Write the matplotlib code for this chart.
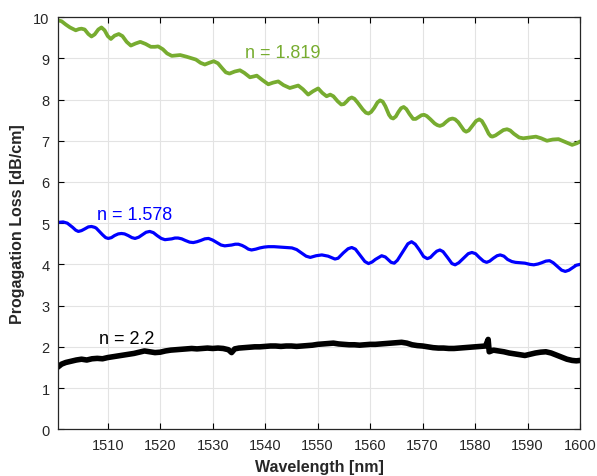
import matplotlib.pyplot as plt

plt.rcParams['font.family'] = ['Liberation Sans', 'DejaVu Sans']

# n = 1.819 film
wl_green = [1500.6, 1501.2, 1502.0, 1502.8, 1503.9, 1504.5, 1505.0, 1505.6, 1506.3, 1506.9,
            1507.5, 1508.2, 1508.8, 1509.4, 1510.0, 1510.6, 1511.3, 1512.1, 1512.8, 1513.6,
            1514.4, 1515.3, 1516.2, 1517.2, 1518.2, 1519.0, 1519.6, 1520.5, 1521.3, 1522.2,
            1523.0, 1523.8, 1525.0, 1526.0, 1526.8, 1527.7, 1528.5, 1529.3, 1530.2, 1531.0,
            1531.8, 1532.5, 1533.2, 1534.2, 1535.2, 1536.0, 1537.1, 1537.8, 1538.4, 1539.4,
            1540.6, 1541.5, 1542.5, 1543.5, 1544.7, 1545.5, 1546.3, 1547.2, 1548.2, 1549.1,
            1550.1, 1550.9, 1551.7, 1552.4, 1553.0, 1553.8, 1554.5, 1555.0, 1555.5, 1556.0,
            1556.5, 1557.0, 1557.6, 1558.6, 1559.2, 1559.7, 1560.2, 1560.8, 1561.4, 1561.9,
            1562.4, 1562.9, 1563.6, 1564.0, 1564.4, 1564.9, 1565.4, 1565.9, 1566.4, 1566.9,
            1567.5, 1568.2, 1568.7, 1569.3, 1569.8, 1570.3, 1570.8, 1571.5, 1572.3, 1572.8,
            1573.3, 1573.9, 1574.5, 1575.1, 1575.7, 1576.2, 1576.8, 1577.5, 1577.9, 1578.3,
            1578.8, 1579.6, 1580.2, 1580.8, 1581.3, 1581.9, 1582.6, 1583.0, 1583.3, 1583.9,
            1584.6, 1585.4, 1586.1, 1586.7, 1587.4, 1588.4, 1589.2, 1590.4, 1591.6, 1592.6,
            1593.7, 1594.8, 1595.9, 1597.0, 1598.5, 1599.4, 1600.0]
loss_green = [9.92, 9.90, 9.82, 9.75, 9.68, 9.71, 9.72, 9.70, 9.59, 9.53,
              9.58, 9.70, 9.75, 9.68, 9.54, 9.47, 9.55, 9.59, 9.54, 9.40,
              9.31, 9.36, 9.40, 9.35, 9.28, 9.28, 9.29, 9.22, 9.12, 9.06,
              9.07, 9.08, 9.04, 9.00, 8.97, 8.89, 8.85, 8.89, 8.93, 8.88,
              8.76, 8.66, 8.63, 8.68, 8.71, 8.65, 8.54, 8.56, 8.58, 8.48,
              8.37, 8.41, 8.44, 8.35, 8.28, 8.31, 8.34, 8.25, 8.12, 8.20,
              8.27, 8.16, 8.08, 8.12, 8.08, 7.96, 7.88, 7.89, 7.95, 8.02,
              8.05, 8.02, 7.93, 7.76, 7.68, 7.66, 7.70, 7.80, 7.93, 7.98,
              7.95, 7.84, 7.63, 7.56, 7.54, 7.59, 7.70, 7.79, 7.82, 7.77,
              7.65, 7.53, 7.53, 7.58, 7.62, 7.63, 7.60, 7.52, 7.42, 7.38,
              7.36, 7.39, 7.46, 7.52, 7.54, 7.52, 7.45, 7.32, 7.25, 7.22,
              7.25, 7.38, 7.48, 7.52, 7.48, 7.35, 7.17, 7.11, 7.10, 7.13,
              7.19, 7.26, 7.28, 7.25, 7.17, 7.08, 7.06, 7.08, 7.10, 7.06,
              7.00, 7.03, 7.04, 6.98, 6.90, 6.94, 6.98]

# n = 1.578 film
wl_blue = [1500.6, 1501.5, 1502.3, 1503.3, 1503.9, 1504.4, 1505.0, 1505.6, 1506.3, 1506.9,
           1507.5, 1507.8, 1508.4, 1509.0, 1509.6, 1510.1, 1510.7, 1511.3, 1512.0, 1512.6,
           1513.2, 1513.9, 1514.6, 1515.2, 1515.9, 1516.6, 1517.3, 1518.0, 1518.7, 1519.4,
           1520.2, 1520.9, 1521.6, 1522.2, 1522.8, 1523.4, 1524.1, 1524.8, 1525.6, 1526.3,
           1527.0, 1527.7, 1528.5, 1529.2, 1530.0, 1530.8, 1531.6, 1532.3, 1533.0, 1533.6,
           1534.3, 1534.9, 1535.6, 1536.2, 1536.8, 1537.4, 1538.2, 1539.0, 1539.8, 1540.6,
           1541.7, 1542.8, 1544.0, 1545.1, 1546.0, 1546.9, 1547.8, 1548.6, 1549.7, 1550.8,
           1552.0, 1553.3, 1553.9, 1554.9, 1555.8, 1556.5, 1557.2, 1558.1, 1559.0, 1559.7,
           1560.4, 1561.0, 1562.2, 1562.9, 1563.4, 1564.0, 1564.6, 1565.2, 1566.2, 1567.2,
           1567.9, 1568.6, 1569.4, 1570.2, 1570.9, 1571.5, 1572.1, 1572.7, 1573.3, 1573.9,
           1574.8, 1575.6, 1576.2, 1576.9, 1577.8, 1578.7, 1579.4, 1580.1, 1580.8, 1581.6,
           1582.2, 1582.8, 1583.5, 1584.2, 1584.8, 1585.5, 1586.2, 1587.0, 1587.7, 1589.5,
           1590.5, 1591.2, 1592.0, 1592.7, 1593.5, 1594.2, 1594.9, 1595.7, 1596.5, 1597.2,
           1597.9, 1598.6, 1599.3, 1600.0]
loss_blue = [5.02, 5.03, 5.00, 4.90, 4.83, 4.80, 4.82, 4.86, 4.91, 4.92,
             4.90, 4.88, 4.80, 4.72, 4.65, 4.63, 4.65, 4.70, 4.74, 4.75,
             4.74, 4.70, 4.65, 4.63, 4.66, 4.72, 4.78, 4.80, 4.77, 4.70,
             4.63, 4.60, 4.61, 4.62, 4.64, 4.64, 4.62, 4.58, 4.54, 4.53,
             4.55, 4.58, 4.62, 4.63, 4.59, 4.53, 4.47, 4.45, 4.46, 4.47,
             4.49, 4.49, 4.46, 4.42, 4.37, 4.35, 4.37, 4.40, 4.42, 4.43,
             4.43, 4.42, 4.41, 4.40, 4.36, 4.28, 4.20, 4.17, 4.21, 4.23,
             4.20, 4.13, 4.15, 4.28, 4.38, 4.41, 4.37, 4.22, 4.07, 4.02,
             4.06, 4.12, 4.21, 4.18, 4.12, 4.05, 4.03, 4.10, 4.30, 4.50,
             4.55, 4.49, 4.35, 4.19, 4.14, 4.17, 4.25, 4.32, 4.35, 4.31,
             4.16, 4.02, 3.99, 4.04, 4.15, 4.26, 4.29, 4.26, 4.17, 4.08,
             4.05, 4.08, 4.15, 4.21, 4.23, 4.20, 4.12, 4.07, 4.05, 4.03,
             4.00, 3.99, 4.01, 4.04, 4.08, 4.09, 4.04, 3.95, 3.86, 3.83,
             3.86, 3.92, 3.98, 4.00]

# n = 2.2 film
wl_black = [1500.6, 1501.2, 1502, 1503, 1504, 1505, 1506, 1507, 1508, 1509,
            1510, 1511, 1512, 1513, 1514, 1515, 1516, 1517, 1518, 1519,
            1520, 1521, 1522, 1523, 1524, 1525, 1526, 1527, 1528, 1529,
            1530, 1531, 1532, 1533, 1533.6, 1534.2, 1535, 1536, 1537, 1538,
            1539, 1540, 1541, 1542, 1543, 1544, 1545, 1546, 1547, 1548,
            1549, 1550, 1551, 1552, 1553, 1554, 1555, 1556, 1557, 1558,
            1559, 1560, 1561, 1562, 1563, 1564, 1565, 1566, 1567, 1568,
            1569, 1570, 1571, 1572, 1573, 1574, 1575, 1576, 1577, 1578,
            1579, 1580, 1581, 1582, 1582.5, 1582.7, 1583.5, 1584.5, 1585.5, 1586.5,
            1587.5, 1588.5, 1589.5, 1590.5, 1591.5, 1592.5, 1593.5, 1594.5, 1595.5, 1596.5,
            1597.5, 1598.5, 1599.3, 1600]
loss_black = [1.52, 1.58, 1.62, 1.65, 1.68, 1.70, 1.68, 1.71, 1.72, 1.71,
              1.74, 1.76, 1.78, 1.80, 1.82, 1.84, 1.87, 1.90, 1.88, 1.86,
              1.87, 1.90, 1.92, 1.93, 1.94, 1.95, 1.96, 1.95, 1.96, 1.97,
              1.96, 1.97, 1.96, 1.93, 1.86, 1.95, 1.97, 1.98, 1.99, 2.00,
              2.00, 2.01, 2.02, 2.02, 2.01, 2.02, 2.02, 2.01, 2.02, 2.03,
              2.04, 2.06, 2.07, 2.08, 2.09, 2.07, 2.06, 2.05, 2.05, 2.04,
              2.05, 2.06, 2.06, 2.07, 2.08, 2.09, 2.10, 2.11, 2.09, 2.05,
              2.03, 2.02, 2.00, 1.98, 1.97, 1.97, 1.96, 1.96, 1.97, 1.98,
              1.99, 2.00, 2.01, 2.02, 2.18, 1.88, 1.92, 1.90, 1.88, 1.85,
              1.83, 1.81, 1.79, 1.82, 1.85, 1.87, 1.88, 1.85, 1.80, 1.75,
              1.70, 1.67, 1.66, 1.67]

xticks = list(range(1510, 1601, 10))
yticks = list(range(0, 11))

fig = plt.figure(figsize=(5.97, 4.77), dpi=100)
ax = fig.add_axes([0.097, 0.098, 0.8745, 0.864])

ax.plot(wl_green, loss_green, color='#77AC30', lw=2.7, solid_joinstyle='round')
ax.plot(wl_blue, loss_blue, color='#0000FF', lw=2.3, solid_joinstyle='round')
ax.plot(wl_black, loss_black, color='black', lw=4.0, solid_joinstyle='round')

ax.text(1543.4, 9.15, 'n = 1.819', color='#77AC30', fontsize=13, ha='center', va='center')
ax.text(1515.1, 5.22, 'n = 1.578', color='#0000FF', fontsize=13, ha='center', va='center')
ax.text(1513.6, 2.2, 'n = 2.2', color='black', fontsize=13, ha='center', va='center')

ax.set_xlim(1500.5, 1600)
ax.set_ylim(0, 10)
ax.set_xticks(xticks)
ax.set_yticks(yticks)
ax.grid(True, color='#e3e3e3', lw=0.8)
ax.set_axisbelow(True)
ax.tick_params(direction='in', top=True, right=True, length=4, width=0.8,
               labelsize=10.5, labelcolor='#262626', pad=6)
for s in ax.spines.values():
    s.set_color('#262626')
    s.set_linewidth(0.9)

ax.set_xlabel('Wavelength [nm]', fontsize=11.5, fontweight='bold', color='#262626', labelpad=5)
ax.set_ylabel('Progagation Loss [dB/cm]', fontsize=11.5, fontweight='bold', color='#262626', labelpad=6)

fig.savefig('out.png', dpi=100)
